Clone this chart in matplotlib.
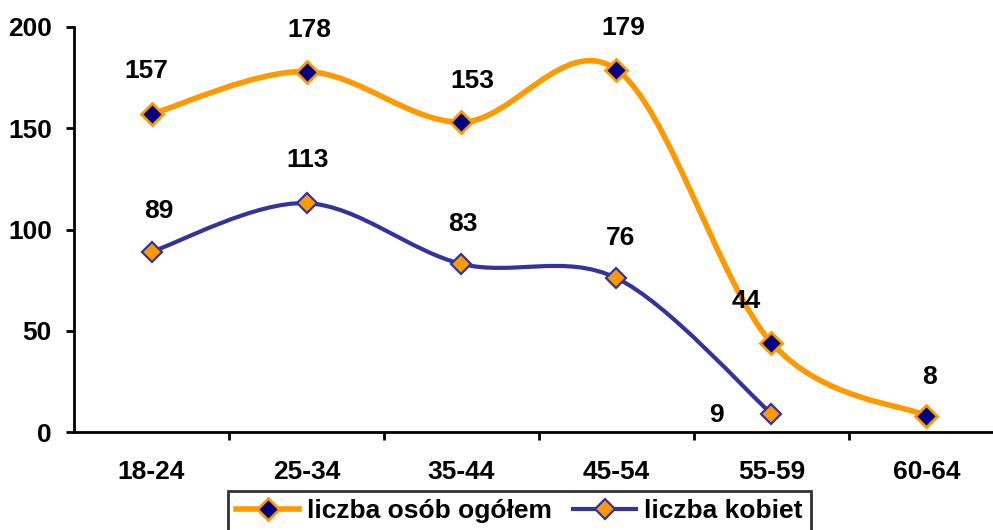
import numpy as np
import matplotlib
matplotlib.use("Agg")
import matplotlib.pyplot as plt
from matplotlib.path import Path
from matplotlib.patches import PathPatch

categories = ["18-24", "25-34", "35-44", "45-54", "55-59", "60-64"]
ogolem = [157, 178, 153, 179, 44, 8]
kobiet = [89, 113, 83, 76, 9]
yticks = [0, 50, 100, 150, 200]
series_names = ["liczba osób ogółem", "liczba kobiet"]

ORANGE = "#FF9900"
NAVY = "#000080"
BLUE = "#333399"
FS = 19

plt.rcParams['font.family'] = ['Liberation Sans', 'DejaVu Sans']
plt.rcParams['font.weight'] = 'bold'

W, H = 993, 530
fig = plt.figure(figsize=(W / 100, H / 100), dpi=100)
ax = fig.add_axes([74 / W, (H - 432) / H, 930 / W, 405 / H])


def smooth_path(xs, ys):
    pts = np.column_stack([xs, ys]).astype(float)
    n = len(pts)
    verts = [pts[0]]
    codes = [Path.MOVETO]
    for i in range(n - 1):
        p0 = pts[i - 1] if i > 0 else pts[i]
        p1 = pts[i]
        p2 = pts[i + 1]
        p3 = pts[i + 2] if i + 2 < n else pts[i + 1]
        c1 = p1 + (p2 - p0) / 6.0
        c2 = p2 - (p3 - p1) / 6.0
        verts += [c1, c2, p2]
        codes += [Path.CURVE4] * 3
    return Path(verts, codes)


x1 = np.arange(len(ogolem))
x2 = np.arange(len(kobiet))

ax.add_patch(PathPatch(smooth_path(x1, ogolem), fill=False, edgecolor=ORANGE, lw=4, zorder=3,
                       capstyle='round', joinstyle='round'))
ax.add_patch(PathPatch(smooth_path(x2, kobiet), fill=False, edgecolor=BLUE, lw=3, zorder=3,
                       capstyle='round', joinstyle='round'))

ax.plot(x1, ogolem, linestyle='none', marker='D', ms=11, mfc=NAVY, mec=ORANGE, mew=2, zorder=4)
ax.plot(x2, kobiet, linestyle='none', marker='D', ms=10, mfc=ORANGE, mec=BLUE, mew=1.6, zorder=4)

# legend proxies
h1, = ax.plot([], [], color=ORANGE, lw=4, marker='D', ms=11, mfc=NAVY, mec=ORANGE, mew=2)
h2, = ax.plot([], [], color=BLUE, lw=3, marker='D', ms=10, mfc=ORANGE, mec=BLUE, mew=1.6)

off1 = [(-4, 31), (2, 30), (8, 30), (5, 30), (-18, 30), (2, 28)]
off2 = [(5, 29), (1, 31), (1, 29), (3, 29), (-40, -1)]
for x, y, o in zip(x1, ogolem, off1):
    ax.annotate(str(y), (x, y), xytext=o, textcoords='offset points', ha='center', va='center',
                fontsize=FS, fontweight='bold', zorder=5)
for x, y, o in zip(x2, kobiet, off2):
    ax.annotate(str(y), (x, y), xytext=o, textcoords='offset points', ha='center', va='center',
                fontsize=FS, fontweight='bold', zorder=5)

ax.set_xlim(-0.5, 5.5)
ax.set_ylim(0, 200)
ax.set_yticks(yticks)
ax.set_yticklabels([str(t) for t in yticks], fontsize=FS, fontweight='bold')
ax.set_xticks(np.arange(len(categories)))
ax.set_xticklabels(categories, fontsize=FS, fontweight='bold')
ax.set_xticks(np.arange(len(categories) - 1) + 0.5, minor=True)
ax.tick_params(axis='x', which='major', length=0, pad=20)
ax.tick_params(axis='x', which='minor', length=6, width=2, direction='out')
ax.tick_params(axis='y', which='major', length=6, width=2, direction='out', pad=10)
for s in ['top', 'right']:
    ax.spines[s].set_visible(False)
for s in ['left', 'bottom']:
    ax.spines[s].set_linewidth(2)
ax.spines['left'].set_bounds(0, 200)

leg = fig.legend([h1, h2], series_names, loc='upper left', bbox_to_anchor=(228 / W, 1 - 491 / H),
                 ncol=2, frameon=True, fancybox=False, edgecolor='black',
                 prop={'weight': 'bold', 'size': FS}, handlelength=2.4, handletextpad=0.3,
                 columnspacing=0.8, borderpad=0.3, borderaxespad=0)
leg.get_frame().set_linewidth(2)

fig.savefig("out.png", dpi=100)
